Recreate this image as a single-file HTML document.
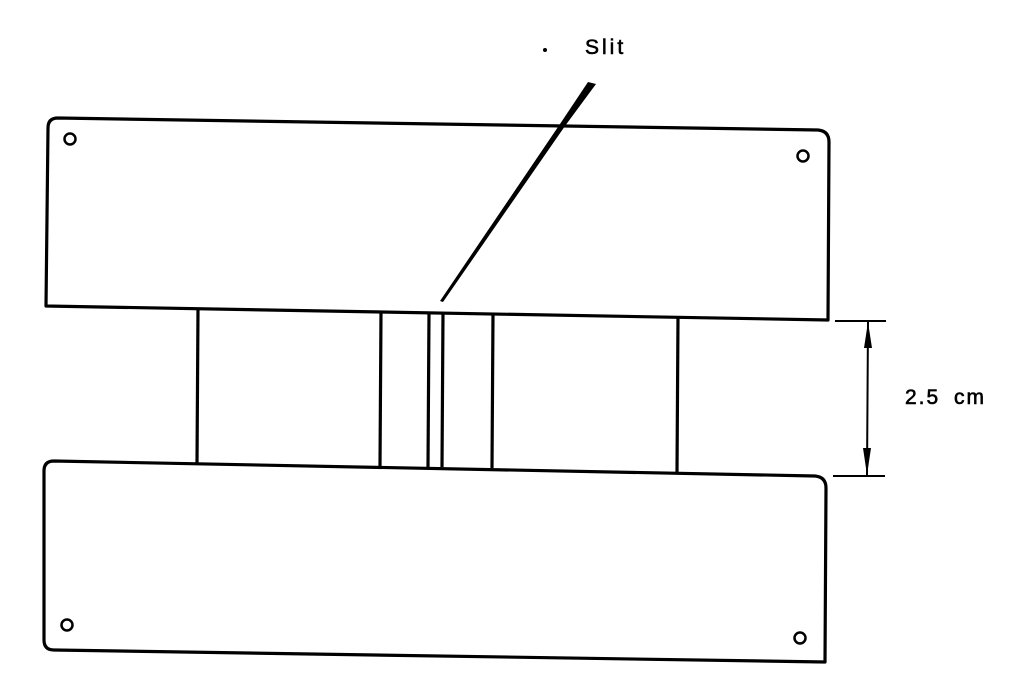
<!DOCTYPE html>
<html><head><style>html,body{margin:0;padding:0;background:#fff;width:1024px;height:692px;overflow:hidden}</style></head>
<body>
<svg width="1024" height="692" viewBox="0 0 1024 692" xmlns="http://www.w3.org/2000/svg">
<g fill="none" stroke="#000" stroke-width="3.2" stroke-linejoin="round">
<path d="M58,118 L818,130 Q829,131 829,142 L828,320 L46,306 L48,128 Q48,118 58,118 Z"/>
<path d="M54,461 L815,476 Q826,477 826,488 L825,662 L54,650 Q44,650 44,640 L44,471 Q44,461 54,461 Z"/>
<line x1="198" y1="309" x2="197" y2="463"/>
<line x1="381" y1="312" x2="380" y2="466"/>
<line x1="429" y1="313" x2="428" y2="467"/>
<line x1="443" y1="313" x2="442" y2="467"/>
<line x1="493" y1="314" x2="492" y2="468"/>
<line x1="678" y1="317" x2="677" y2="472"/>
<line x1="835" y1="321" x2="886" y2="321" stroke-width="2"/>
<line x1="833" y1="476" x2="885" y2="476" stroke-width="2"/>
<line x1="868" y1="322" x2="867" y2="475" stroke-width="2"/>
<circle cx="70" cy="139" r="5.5" stroke-width="2.5"/>
<circle cx="803" cy="156" r="5.5" stroke-width="2.5"/>
<circle cx="67" cy="625" r="5.5" stroke-width="2.5"/>
<circle cx="800" cy="638" r="5.5" stroke-width="2.5"/>
</g>
<polygon points="868,322 864,348 872,348" fill="#000"/>
<polygon points="867,475 863,448 871,448" fill="#000"/>
<polygon points="588,82 596,84 565,126 443,302 440,301 560,124" fill="#000"/>
<circle cx="545" cy="50" r="2" fill="#000"/>
<text x="585" y="54" font-family="Liberation Sans, sans-serif" font-size="21" letter-spacing="3" stroke="#000" stroke-width="0.6">Slit</text>
<text x="905" y="404" font-family="Liberation Sans, sans-serif" font-size="21" letter-spacing="2" word-spacing="6" stroke="#000" stroke-width="0.6">2.5 cm</text>
</svg>
</body></html>
